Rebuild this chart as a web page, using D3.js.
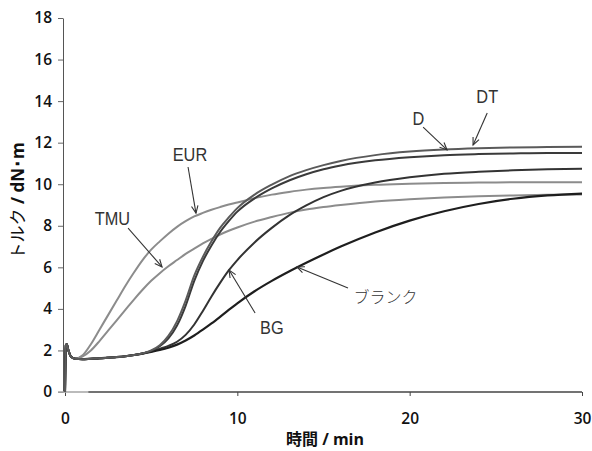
<!DOCTYPE html>
<html>
<head>
<meta charset="utf-8">
<script src="https://cdn.jsdelivr.net/npm/d3@7"></script>
<style>
  html, body { margin: 0; padding: 0; background: #fff; }
  svg { display: block; }
</style>
</head>
<body>
<svg id="chart" width="592" height="451"></svg>
<script>
// Cure curves: torque (dN·m) against time (min)
const times = [0, 0.05, 0.1, 0.2, 0.35, 0.6, 1, 1.5, 2, 2.5, 3, 3.5, 4, 4.5, 5, 5.5, 6, 6.5, 7, 7.5,
               8, 8.5, 9, 9.5, 10, 11, 12, 13, 14, 15, 16, 18, 20, 22, 24, 26, 28, 30];

const eurValues = [0, 2.25, 2.3, 2.0, 1.7, 1.6, 1.75, 2.3, 3.0, 3.7, 4.4, 5.1, 5.75, 6.35, 6.85, 7.25, 7.62, 7.95, 8.22, 8.45,
                   8.62, 8.77, 8.9, 9.02, 9.12, 9.33, 9.5, 9.63, 9.74, 9.82, 9.88, 9.97, 10.02, 10.06, 10.08, 10.1, 10.1, 10.1];
const tmuValues = [0, 2.25, 2.3, 2.0, 1.7, 1.6, 1.7, 2.0, 2.45, 2.95, 3.45, 3.95, 4.45, 4.92, 5.35, 5.72, 6.05, 6.35, 6.65, 6.9,
                   7.15, 7.37, 7.58, 7.76, 7.92, 8.2, 8.42, 8.62, 8.78, 8.9, 9.0, 9.17, 9.28, 9.36, 9.42, 9.46, 9.49, 9.5];
const dValues   = [0, 2.25, 2.3, 2.0, 1.7, 1.6, 1.58, 1.6, 1.62, 1.65, 1.68, 1.72, 1.78, 1.86, 2.0, 2.25, 2.7, 3.4, 4.4, 5.6,
                   6.5, 7.25, 7.9, 8.4, 8.85, 9.5, 9.98, 10.38, 10.68, 10.92, 11.12, 11.4, 11.57, 11.67, 11.73, 11.77, 11.79, 11.8];
const dtValues  = [0, 2.25, 2.3, 2.0, 1.7, 1.6, 1.58, 1.6, 1.62, 1.65, 1.68, 1.72, 1.78, 1.85, 1.98, 2.2, 2.58, 3.2, 4.15, 5.35,
                   6.3, 7.05, 7.7, 8.22, 8.68, 9.32, 9.8, 10.18, 10.48, 10.72, 10.9, 11.15, 11.3, 11.4, 11.45, 11.48, 11.5, 11.5];
const bgValues  = [0, 2.25, 2.3, 2.0, 1.7, 1.6, 1.58, 1.6, 1.62, 1.65, 1.68, 1.72, 1.78, 1.85, 1.95, 2.08, 2.22, 2.42, 2.75, 3.25,
                   3.9, 4.6, 5.25, 5.85, 6.35, 7.2, 7.9, 8.5, 8.98, 9.38, 9.68, 10.08, 10.33, 10.5, 10.6, 10.67, 10.72, 10.75];
const blankValues = [0, 2.25, 2.3, 2.0, 1.7, 1.6, 1.58, 1.6, 1.62, 1.65, 1.68, 1.72, 1.78, 1.85, 1.93, 2.02, 2.13, 2.28, 2.48, 2.72,
                   3.0, 3.3, 3.62, 3.95, 4.27, 4.85, 5.35, 5.8, 6.22, 6.62, 7.0, 7.68, 8.25, 8.7, 9.05, 9.3, 9.46, 9.55];

const xTicks = [0, 10, 20, 30];
const yTicks = [0, 2, 4, 6, 8, 10, 12, 14, 16, 18];

// Callout labels: text anchor point and arrow (from -> tip), in data units
const calloutNames = ["EUR", "TMU", "D", "DT", "BG", "ブランク"];
const calloutText  = [[7.25, 11.1], [2.75, 8.05], [20.5, 12.85], [24.5, 13.9], [12.0, 2.8], [18.6, 4.3]];
const calloutFrom  = [[7.14, 10.83], [3.66, 7.89], [20.78, 12.75], [24.5, 13.43], [11.03, 3.8], [16.42, 5.0]];
const calloutTip   = [[7.6, 8.61], [5.63, 6.02], [22.17, 11.65], [23.68, 11.89], [9.52, 5.87], [13.46, 6.02]];

const series = [
  { name: "EUR",   values: eurValues,   color: "#8c8c8c", width: 2.0 },
  { name: "TMU",   values: tmuValues,   color: "#8c8c8c", width: 2.0 },
  { name: "BG",    values: bgValues,    color: "#333333", width: 2.0 },
  { name: "ブランク", values: blankValues, color: "#1e1e1e", width: 2.2 },
  { name: "DT",    values: dtValues,    color: "#3a3a3a", width: 2.0 },
  { name: "D",     values: dValues,     color: "#5a5a5a", width: 2.0 }
];

const svg = d3.select("#chart");
const x = d3.scaleLinear().domain([0, 30]).range([65, 582]);
const y = d3.scaleLinear().domain([0, 18]).range([392, 18]);
const axisX = 63;
const tickFont = "'Open Sans', 'DejaVu Sans', sans-serif";

// y axis
const yAxis = svg.append("g").attr("transform", `translate(${axisX},0)`)
  .call(d3.axisLeft(y).tickValues(yTicks).tickSize(5).tickPadding(6).tickSizeOuter(0));
yAxis.select(".domain").attr("stroke", "#555").attr("stroke-width", 1);
yAxis.selectAll(".tick line").attr("stroke", "#666");
yAxis.selectAll(".tick text")
  .attr("font-family", tickFont)
  .attr("font-weight", 600).attr("font-size", 15.5).attr("fill", "#111");

// x axis
const xAxis = svg.append("g").attr("transform", `translate(0,${y(0)})`)
  .call(d3.axisBottom(x).tickValues(xTicks).tickSize(4).tickPadding(17).tickSizeOuter(0));
xAxis.select(".domain").attr("stroke", "none");
xAxis.selectAll(".tick line").attr("stroke", "#444");
xAxis.selectAll(".tick text")
  .attr("font-family", tickFont)
  .attr("font-weight", 600).attr("font-size", 15.5).attr("fill", "#111");
// baseline: pale near the origin, dark beyond
svg.append("line")
  .attr("x1", axisX - 5).attr("x2", x(1.35))
  .attr("y1", y(0)).attr("y2", y(0))
  .attr("stroke", "#aaa").attr("stroke-width", 1.6);
svg.append("line")
  .attr("x1", x(1.35)).attr("x2", x(30))
  .attr("y1", y(0)).attr("y2", y(0))
  .attr("stroke", "#444").attr("stroke-width", 1.3);

// axis titles
const yTitle = svg.append("text")
  .attr("transform", `translate(24,${y(9.2)}) rotate(-90)`)
  .attr("text-anchor", "middle")
  .attr("font-size", 17).attr("fill", "#111");
yTitle.append("tspan").attr("font-family", "'Noto Sans CJK JP', sans-serif").text("トルク");
yTitle.append("tspan").attr("font-family", "'Open Sans', sans-serif").attr("font-weight", 700).text(" / dN･m");

const xTitle = svg.append("text")
  .attr("x", 325).attr("y", 445)
  .attr("text-anchor", "middle")
  .attr("font-size", 16).attr("fill", "#111").attr("font-weight", 700);
xTitle.append("tspan").attr("font-family", "'Noto Sans CJK JP', sans-serif").text("時間");
xTitle.append("tspan").attr("font-family", "'Open Sans', sans-serif").text(" / min");

// curves
const line = d3.line()
  .x((d, i) => x(times[i]))
  .y(d => y(d))
  .curve(d3.curveMonotoneX);

svg.append("g").selectAll("path").data(series).join("path")
  .attr("d", d => line(d.values))
  .attr("fill", "none")
  .attr("stroke", d => d.color)
  .attr("stroke-width", d => d.width)
  .attr("stroke-linejoin", "round");

// callouts with open arrowheads
const callouts = calloutNames.map((name, i) => ({
  name, text: calloutText[i], from: calloutFrom[i], tip: calloutTip[i]
}));
const cg = svg.append("g");
callouts.forEach(c => {
  const x1 = x(c.from[0]), y1 = y(c.from[1]);
  const x2 = x(c.tip[0]), y2 = y(c.tip[1]);
  const ang = Math.atan2(y2 - y1, x2 - x1);
  const L = 8, spread = 0.42;
  cg.append("line").attr("x1", x1).attr("y1", y1).attr("x2", x2).attr("y2", y2)
    .attr("stroke", "#333").attr("stroke-width", 1.1);
  cg.append("path")
    .attr("d", `M${x2 - L * Math.cos(ang - spread)},${y2 - L * Math.sin(ang - spread)}L${x2},${y2}L${x2 - L * Math.cos(ang + spread)},${y2 - L * Math.sin(ang + spread)}`)
    .attr("fill", "none").attr("stroke", "#333").attr("stroke-width", 1.1);
  const isKana = /[\u3040-\u30ff]/.test(c.name);
  cg.append("text")
    .attr("transform", `translate(${x(c.text[0])},${y(c.text[1])}) scale(${isKana ? 1 : 0.86},1)`)
    .attr("text-anchor", "middle")
    .attr("font-family", isKana ? "'Noto Sans CJK JP', sans-serif" : "'Liberation Sans', Arial, sans-serif")
    .attr("font-weight", isKana ? 300 : 400)
    .attr("font-size", isKana ? 16 : 19)
    .attr("fill", "#333")
    .text(c.name);
});
</script>
</body>
</html>
